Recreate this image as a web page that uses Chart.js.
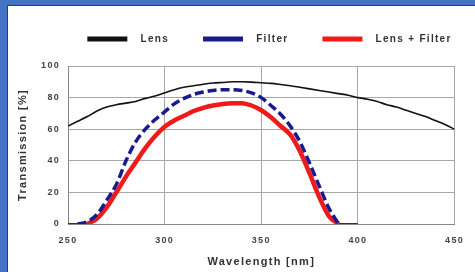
<!DOCTYPE html>
<html>
<head>
<meta charset="utf-8">
<script src="https://cdn.jsdelivr.net/npm/chart.js@4"></script>
<style>
  html, body { margin: 0; padding: 0; overflow: hidden; }
  body { width: 475px; height: 272px; background: #4472c4; position: relative; }
  #panel {
    position: absolute; left: 7px; top: 5px; width: 467px; height: 266px;
    background: #fff; border-left: 1px solid #2b3f66; border-top: 1px solid #2b3f66;
  }
</style>
</head>
<body>
<div id="panel"><canvas id="chart" width="467" height="266"></canvas></div>
<script>
// Transmission curves (nm -> %)
const lensNm = [250, 255, 260, 265, 270, 275, 280, 285, 290, 295, 300, 305, 310, 315, 320, 325, 330, 335, 340, 345,
  350, 355, 360, 365, 370, 375, 380, 385, 390, 395, 400, 405, 410, 415, 420, 425, 430, 435, 440, 445, 450];
const lensT = [62, 65, 68, 71.5, 74, 75.5, 76.5, 77.5, 79.5, 81, 83, 85, 86.5, 87.5, 88.5, 89.2, 89.6, 90, 90, 89.8,
  89.4, 89, 88.3, 87.5, 86.5, 85.5, 84.5, 83.5, 82.5, 81.5, 80, 79, 77.5, 75.5, 74, 72, 70, 68, 65.5, 63, 60];

const filterNm = [255, 260, 265, 270, 275, 280, 285, 290, 295, 300, 305, 310, 315, 320, 325, 330, 335, 340, 345, 350,
  355, 360, 365, 370, 375, 380, 385, 390];
const filterT = [0, 1.5, 6, 15, 25, 40, 52, 60, 66, 71, 76, 79.5, 82, 83.5, 84.5, 85, 85, 84.5, 83, 80,
  75, 69.5, 62, 52, 38.5, 24, 10, 0];

const comboNm = [260, 265, 270, 275, 280, 285, 290, 295, 300, 305, 310, 315, 320, 325, 330, 335, 340, 345, 350,
  355, 360, 365, 370, 375, 380, 385, 390];
const comboT = [0, 3.5, 10.5, 20, 30, 39, 48, 55.5, 61.5, 65.5, 68.5, 71.5, 73.5, 75, 76, 76.5, 76.5, 75, 72,
  67.5, 62, 56.5, 46, 32, 17, 5, 0];

// dark stubs lying on the zero line
const baseNm = [250, 259, 259.5, 388, 400];
const baseT = [0, 0, null, 0, 0];

const xTicks = [250, 300, 350, 400, 450];
const yTicks = [0, 20, 40, 60, 80, 100];

const toPts = (xs, ys) => xs.map((x, i) => ({ x, y: ys[i] }));

const FONT = "'Liberation Sans', Arial, sans-serif";

// the scan uses widely tracked lettering
const trackText = {
  id: 'trackText',
  beforeLayout(chart) { chart.ctx.letterSpacing = '1.3px'; },
  beforeDraw(chart) { chart.ctx.letterSpacing = '1.3px'; },
};

// legend in the scan sits right of centre, over the plot
const nudgeLegend = {
  id: 'nudgeLegend',
  afterLayout(chart) {
    chart.legend.left += 28;
    chart.legend.right += 28;
  },
};

new Chart(document.getElementById('chart'), {
  type: 'line',
  data: {
    datasets: [
      { label: 'Lens', data: toPts(lensNm, lensT), borderColor: '#111111', borderWidth: 1.6 },
      { label: 'Filter', data: toPts(filterNm, filterT), borderColor: '#1a1a90', borderWidth: 3.5,
        borderDash: [9, 4] },
      { label: 'Lens + Filter', data: toPts(comboNm, comboT), borderColor: '#f01a1a', borderWidth: 4.5 },
      { label: 'base', data: toPts(baseNm, baseT), borderColor: '#333333', borderWidth: 2 },
    ],
  },
  options: {
    responsive: false,
    animation: false,
    devicePixelRatio: 1,
    layout: { padding: { top: -6, left: 0, right: 0, bottom: 0 } },
    elements: {
      point: { radius: 0 },
      line: { cubicInterpolationMode: 'monotone', fill: false, borderCapStyle: 'butt' },
    },
    plugins: {
      tooltip: { enabled: false },
      title: { display: true, text: '', weight: 500, padding: 0, font: { size: 10, lineHeight: 1.2 } },
      legend: {
        position: 'top',
        labels: {
          boxWidth: 40,
          boxHeight: 5,
          padding: 34,
          color: '#333',
          font: { family: FONT, size: 10, weight: 'bold' },
          generateLabels: chart => chart.data.datasets.slice(0, 3).map((ds, i) => ({
            text: '  ' + ds.label,
            fillStyle: ds.borderColor,
            strokeStyle: ds.borderColor,
            lineWidth: 0,
            hidden: false,
            datasetIndex: i,
            fontColor: '#333',
          })),
        },
      },
    },
    scales: {
      x: {
        type: 'linear',
        min: 250,
        max: 450,
        afterFit: s => { s.height = 48; },
        afterBuildTicks: s => { s.ticks = xTicks.map(v => ({ value: v })); },
        grid: { color: '#a8a8a8', drawTicks: false },
        border: { color: '#888' },
        ticks: { padding: 11, color: '#444', font: { family: FONT, size: 9, weight: 'bold' }, maxRotation: 0 },
        title: { display: true, text: 'Wavelength [nm]', color: '#333', padding: { top: 0, bottom: 3 },
          font: { family: FONT, size: 11, weight: 'bold' } },
      },
      y: {
        min: 0,
        max: 100,
        afterFit: s => { s.width = 60; },
        afterBuildTicks: s => { s.ticks = yTicks.map(v => ({ value: v })); },
        grid: { color: '#a8a8a8', drawTicks: false },
        border: { color: '#888' },
        ticks: { padding: 8, color: '#444', font: { family: FONT, size: 9, weight: 'bold' } },
        title: { display: true, text: 'Transmission [%]', color: '#333', padding: { top: 8, bottom: 0 },
          font: { family: FONT, size: 11, weight: 'bold' } },
      },
    },
  },
  plugins: [trackText, nudgeLegend],
});
</script>
</body>
</html>
